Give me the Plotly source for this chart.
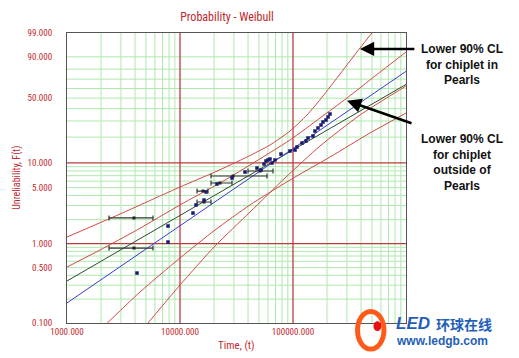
import numpy as np
import plotly.graph_objects as go

# ---------------- data (time in hours, unreliability F in %) ----------------
blue_t = [1000, 10000, 100000, 1000000]
blue_F = [0.179, 1.674, 14.77, 77.9]

black_t = [1000, 10000, 100000, 1000000]
black_F = [0.339, 2.254, 14.25, 64.4]

# upper bound, wide set ("chiplet in Pearls")
ua_t = [1000, 2944, 10000, 20400, 39170, 62580, 94080, 133000, 184300, 260600, 391700, 531800]
ua_F = [1.212, 2.35, 5.09, 7.76, 11.74, 16.24, 23.36, 34.55, 52.13, 75.27, 94.90, 99.43]

# upper bound, narrow set ("chiplet outside of Pearls")
ub_t = [1000, 1959, 4159, 10000, 22590, 41600, 94000, 173400, 300700, 531800, 1000000]
ub_F = [0.508, 0.832, 1.484, 3.05, 5.70, 9.43, 18.53, 32.19, 50.10, 73.24, 92.93]

# lower bounds
la_t = [4613, 10000, 20400, 41600, 84900, 173400, 391700, 1000000]
la_F = [0.0815, 0.3013, 0.934, 2.49, 6.56, 15.81, 34.55, 62.67]

lb_t = [1959, 4424, 10000, 20400, 41600, 94000, 212400, 480000, 1000000]
lb_F = [0.0815, 0.246, 0.660, 1.484, 3.05, 6.20, 11.74, 22.21, 36.19]

# failure points
pt_t = [13030, 13860, 16310, 16990, 21260, 28860, 37600, 48010, 52100, 55390,
        57690, 60080, 62580, 65180, 69290, 78310, 94080, 104200, 108500, 120100,
        130300, 135700, 150300, 156500, 166400, 176900, 184300, 195900, 204000, 212500,
        7832, 7832, 4164]
pt_F = [2.42, 3.05, 3.51, 4.42, 5.54, 6.56, 7.76, 8.67, 8.21, 9.70,
        10.53, 10.82, 11.12, 9.97, 10.82, 12.74, 13.83, 14.20, 15.39, 17.11,
        18.05, 19.52, 20.56, 23.36, 25.21, 27.16, 29.24, 30.68, 32.98, 35.37,
        1.665, 1.049, 0.427]

# interval points (with time ranges)
iv_t = [3916, 3916, 29440, 22590, 15980, 16310, 51050]
iv_F = [2.10, 0.881, 6.94, 5.70, 4.54, 3.32, 7.98]
iv_lo = [2353, 2353, 18810, 18810, 14140, 14140, 39980]
iv_hi = [5769, 5769, 58880, 28860, 17690, 18810, 66530]

x_ticks = [1000, 10000, 100000]
x_ticktext = ["1000.000", "10000.000", "100000.000"]
y_ticks = [0.1, 0.5, 1, 5, 10, 50, 90, 99]
y_ticktext = ["0.100", "0.500", "1.000", "5.000", "10.000", "50.000", "90.000", "99.000"]

x_minor = [m * d for d in (1000, 10000, 100000) for m in range(2, 10)]
x_major = [10000, 100000]
y_minor = [0.2, 0.3, 0.4, 0.5, 0.6, 0.7, 0.8, 0.9,
           2, 3, 4, 5, 6, 7, 8, 9,
           20, 30, 40, 50, 60, 70, 80, 90]
y_major = [1, 10]


def ww(F):
    F = np.asarray(F, dtype=float) / 100.0
    return np.log(-np.log(1.0 - F))


YMIN, YMAX = float(ww(0.1)), float(ww(99))
XMIN, XMAX = 3.0, 6.0


def xp(v):
    return (np.log10(v) - XMIN) / (XMAX - XMIN)


def yp(F):
    return (float(ww(F)) - YMIN) / (YMAX - YMIN)


RED = "#d44848"
fig = go.Figure()

for t, F in [(ua_t, ua_F), (ub_t, ub_F), (la_t, la_F), (lb_t, lb_F)]:
    fig.add_trace(go.Scatter(x=t, y=ww(F), mode="lines",
                             line=dict(color=RED, width=1, shape="spline", smoothing=0.6),
                             hoverinfo="skip"))

fig.add_trace(go.Scatter(x=black_t, y=ww(black_F), mode="lines",
                         line=dict(color="#2c4a30", width=1), hoverinfo="skip"))
fig.add_trace(go.Scatter(x=blue_t, y=ww(blue_F), mode="lines",
                         line=dict(color="#3a3ad0", width=1), hoverinfo="skip"))

iv_t_a = np.array(iv_t, float)
fig.add_trace(go.Scatter(
    x=iv_t, y=ww(iv_F), mode="markers",
    marker=dict(symbol="square", size=3, color="#222"),
    error_x=dict(type="data", symmetric=False,
                 array=np.array(iv_hi, float) - iv_t_a,
                 arrayminus=iv_t_a - np.array(iv_lo, float),
                 color="#333", thickness=1.2, width=2.5),
    hoverinfo="skip"))

fig.add_trace(go.Scatter(x=pt_t, y=ww(pt_F), mode="markers",
                         marker=dict(symbol="square", size=3.5, color="#1a1a70"),
                         hoverinfo="skip"))

shapes = []
for v in x_minor:
    shapes.append(dict(type="line", xref="paper", yref="paper", x0=xp(v), x1=xp(v),
                       y0=0, y1=1, line=dict(color="#aee9ae", width=1), layer="below"))
for F in y_minor:
    shapes.append(dict(type="line", xref="paper", yref="paper", x0=0, x1=1,
                       y0=yp(F), y1=yp(F), line=dict(color="#aee9ae", width=1), layer="below"))
for v in x_major:
    shapes.append(dict(type="line", xref="paper", yref="paper", x0=xp(v), x1=xp(v),
                       y0=0, y1=1, line=dict(color="#bb3c3c", width=1.3), layer="below"))
for F in y_major:
    shapes.append(dict(type="line", xref="paper", yref="paper", x0=0, x1=1,
                       y0=yp(F), y1=yp(F), line=dict(color="#bb3c3c", width=1.3), layer="below"))

# watermark logo
shapes.append(dict(type="circle", xref="paper", yref="paper",
                   x0=0.857, x1=0.935, y0=-0.09, y1=0.04,
                   line=dict(color="#ff5a1a", width=5), layer="above"))
shapes.append(dict(type="circle", xref="paper", yref="paper",
                   x0=0.904, x1=0.927, y0=-0.028, y1=0.006,
                   fillcolor="#e81010", line=dict(width=0), layer="above"))

NARROW = "Liberation Sans Narrow, Arial Narrow, Roboto Condensed, Liberation Sans, sans-serif"
TXT = "#c0282d"
BOLD = "Liberation Sans, Arial, sans-serif"
annotations = [
    dict(text="Unreliability, F(t)", xref="paper", yref="paper", x=-0.148, y=0.50,
         textangle=-90, showarrow=False, font=dict(family=NARROW, size=10, color=TXT),
         xanchor="center", yanchor="middle"),
    dict(text="Time, (t)", xref="paper", yref="paper", x=0.5, y=-22 / 290,
         showarrow=False, font=dict(family=NARROW, size=11, color=TXT),
         xanchor="center", yanchor="middle"),
    dict(text="<b>Lower 90% CL<br>for chiplet in<br>Pearls</b>", xref="paper", yref="paper",
         x=1.165, y=0.89, showarrow=False, align="center",
         font=dict(family=BOLD, size=12, color="#111"), xanchor="center", yanchor="middle"),
    dict(text="<b>Lower 90% CL<br>for chiplet<br>outside of<br>Pearls</b>", xref="paper", yref="paper",
         x=1.165, y=0.553, showarrow=False, align="center",
         font=dict(family=BOLD, size=12, color="#111"), xanchor="center", yanchor="middle"),
    dict(text="", xref="paper", yref="paper", x=0.864, y=0.945, ax=56, ay=0,
         showarrow=True, arrowhead=2, arrowsize=1.1, arrowwidth=2.6, arrowcolor="#000"),
    dict(text="", xref="paper", yref="paper", x=0.826, y=0.766, ax=66, ay=23,
         showarrow=True, arrowhead=2, arrowsize=1.1, arrowwidth=2.6, arrowcolor="#000"),
    dict(text="<b><i>LED</i></b>", xref="paper", yref="paper", x=1.02, y=-0.003,
         showarrow=False, font=dict(family=BOLD, size=17, color="#1f5fb8"),
         xanchor="center", yanchor="middle"),
    dict(text="<b>环球在线</b>", xref="paper", yref="paper", x=1.17, y=-0.003,
         showarrow=False, font=dict(family="Noto Sans CJK SC", size=14, color="#1f5fb8"),
         xanchor="center", yanchor="middle"),
    dict(text="<b>www.ledgb.com</b>", xref="paper", yref="paper", x=1.105, y=-0.062,
         showarrow=False, font=dict(family=BOLD, size=12, color="#1f5fb8"),
         xanchor="center", yanchor="middle"),
]

# the page body adds an 8px offset, so margins are shifted to keep the plot area in place
fig.update_layout(
    width=519, height=358,
    margin=dict(l=59, r=121, t=25, b=43, autoexpand=False),
    paper_bgcolor="white", plot_bgcolor="white",
    showlegend=False,
    title=dict(text="Probability - Weibull", x=219 / 519, xanchor="center",
               y=1 - 9 / 358, yanchor="middle",
               font=dict(family=NARROW, size=12, color=TXT)),
    shapes=shapes,
    annotations=annotations,
)

fig.update_xaxes(type="log", range=[XMIN, XMAX], showgrid=False, zeroline=False,
                 automargin=False,
                 tickvals=x_ticks, ticktext=x_ticktext,
                 tickfont=dict(family=NARROW, size=9, color=TXT),
                 ticks="",
                 showline=True, linecolor="#555", linewidth=1, mirror=True)
fig.update_yaxes(range=[YMIN, YMAX], showgrid=False, zeroline=False,
                 automargin=False,
                 tickvals=ww(y_ticks), ticktext=y_ticktext,
                 tickfont=dict(family=NARROW, size=9, color=TXT),
                 ticks="outside", ticklen=12, tickcolor="rgba(0,0,0,0)",
                 showline=True, linecolor="#555", linewidth=1, mirror=True)

fig.write_html("out.html")
